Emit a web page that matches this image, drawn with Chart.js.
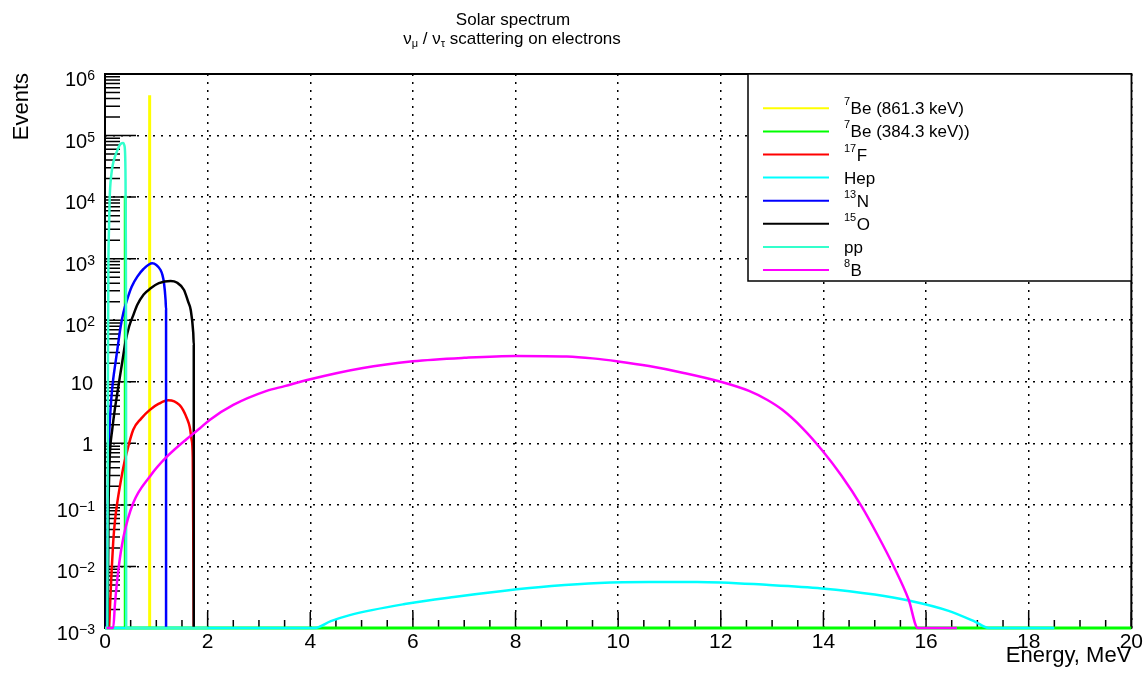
<!DOCTYPE html>
<html>
<head>
<meta charset="utf-8">
<title>Solar spectrum</title>
<script src="https://cdn.jsdelivr.net/npm/chart.js@4.4.1/dist/chart.umd.min.js"></script>
<style>
  html, body { margin: 0; padding: 0; background: #fff; }
  #wrap { width: 1145px; height: 678px; }
</style>
</head>
<body>
<div id="wrap"><canvas id="chart" width="1145" height="678"></canvas></div>
<script>
// Solar neutrino spectrum, nu_mu / nu_tau scattering on electrons
// values (energy in MeV, events)

const xMajorTicks = [0, 2, 4, 6, 8, 10, 12, 14, 16, 18, 20];
const xTickLabels = ['0', '2', '4', '6', '8', '10', '12', '14', '16', '18', '20'];
const yMajorTicks = [1e-3, 1e-2, 1e-1, 1, 10, 1e2, 1e3, 1e4, 1e5, 1e6];
const yTickBase = ['10', '10', '10', '1', '10', '10', '10', '10', '10', '10'];
const yTickExp = ['\u22123', '\u22122', '\u22121', '', '', '2', '3', '4', '5', '6'];

// 7Be 861.3 keV line
const eBe861 = [0.87, 0.87];
const nBe861 = [1e-3, 4.5e5];

// 7Be 384.3 keV line (+ empty bins along the floor)
const eBe384 = [0, 0.395, 0.395, 0.395, 20];
const nBe384 = [1e-3, 1e-3, 1.05e4, 1e-3, 1e-3];

// 17F
const eF17 = [0.08, 0.1, 0.13, 0.16, 0.195, 0.24, 0.29, 0.35, 0.42, 0.55, 0.7, 0.875, 1.05, 1.23, 1.35, 1.45, 1.52, 1.6, 1.65, 1.69, 1.71, 1.73];
const nF17 = [1e-3, 0.0025, 0.0087, 0.025, 0.056, 0.11, 0.2, 0.38, 0.69, 1.66, 2.5, 3.5, 4.4, 5.0, 4.8, 4.2, 3.5, 2.5, 1.86, 1.12, 0.6, 1e-3];

// hep
const eHep = [0, 4.09, 4.4, 4.77, 5.84, 6.8, 7.75, 8.7, 9.63, 10.6, 11.54, 12.94, 13.97, 15.0, 15.66, 16.44, 16.96, 17.22, 18.5];
const nHep = [1e-3, 1e-3, 0.00129, 0.00162, 0.00245, 0.0032, 0.004, 0.0048, 0.0054, 0.0056, 0.0056, 0.005, 0.0044, 0.0035, 0.0028, 0.0019, 0.00126, 1e-3, 1e-3];

// 13N
const eN13 = [0.035, 0.045, 0.055, 0.065, 0.08, 0.1, 0.12, 0.16, 0.21, 0.25, 0.305, 0.36, 0.43, 0.52, 0.63, 0.75, 0.92, 1.0, 1.08, 1.12, 1.15, 1.18, 1.19, 1.19];
const nN13 = [1e-3, 0.01, 0.1, 0.5, 1.3, 2.8, 5, 11, 22, 38, 79, 135, 215, 350, 510, 680, 840, 790, 660, 540, 400, 215, 150, 1e-3];

// 15O
const eO15 = [0.05, 0.06, 0.07, 0.085, 0.1, 0.14, 0.19, 0.24, 0.29, 0.34, 0.4, 0.47, 0.55, 0.63, 0.75, 0.89, 1.05, 1.28, 1.4, 1.54, 1.62, 1.67, 1.72, 1.73, 1.73];
const nO15 = [1e-3, 0.01, 0.1, 0.4, 0.8, 1.66, 3.5, 6.5, 12, 22, 45, 79, 120, 178, 260, 330, 400, 435, 410, 310, 200, 148, 62, 40, 1e-3];

// pp
const ePP = [0, 0.045, 0.05, 0.055, 0.06, 0.065, 0.075, 0.09, 0.1, 0.12, 0.15, 0.195, 0.25, 0.29, 0.33, 0.356, 0.375, 0.39, 0.4, 0.405, 0.41, 0.413, 2.0];
const nPP = [1e-3, 1e-3, 0.05, 2, 50, 600, 2500, 9000, 14000, 22000, 33000, 46000, 60000, 71000, 75000, 76000, 70000, 55000, 20000, 3000, 50, 1e-3, 1e-3];

// 8B
const eB8 = [0.03, 0.16, 0.195, 0.26, 0.36, 0.55, 0.875, 1.2, 1.72, 1.85, 2.04, 2.5, 3.15, 3.5, 4.0, 5.0, 6.0, 7.0, 8.0, 9.0, 9.5, 10.0, 10.6, 11.3, 12.0, 12.55, 12.9, 13.2, 13.6, 13.97, 14.35, 14.75, 15.05, 15.37, 15.66, 15.84, 16.6];
const nB8 = [1e-3, 1e-3, 0.0025, 0.0087, 0.03, 0.107, 0.29, 0.6, 1.44, 1.76, 2.4, 4.2, 7.1, 8.5, 11, 16.6, 21.5, 24.5, 26.3, 25.7, 24, 21.4, 18, 13.8, 10, 7.1, 5.1, 3.5, 1.74, 0.78, 0.3, 0.093, 0.033, 0.01, 0.0029, 1e-3, 1e-3];

const seriesE = [eBe861, eBe384, eF17, eHep, eN13, eO15, ePP, eB8];
const seriesN = [nBe861, nBe384, nF17, nHep, nN13, nO15, nPP, nB8];
const legendSup = ['7', '7', '17', '', '13', '15', '', '8'];
const legendText = ['Be (861.3 keV)', 'Be (384.3 keV))', 'F', 'Hep', 'N', 'O', 'pp', 'B'];
const colors = ['#ffff00', '#00ff00', '#ff0000', '#00ffff', '#0000ff', '#000000', '#33ffcc', '#ff00ff'];
const widths = [3, 3, 2.5, 2.5, 2.5, 2.5, 2.5, 2.5];

const FONT = '"Liberation Sans", Arial, Helvetica, sans-serif';
Chart.defaults.font.family = FONT;
Chart.defaults.color = '#000';

function near(v, list) {
  return list.some(m => Math.abs(v - m) <= Math.abs(m) * 1e-6 + 1e-9);
}

// ROOT-like frame, inward ticks, labels, titles and legend
const rootStyle = {
  id: 'rootStyle',
  beforeDatasetsDraw(chart) {
    const { ctx, chartArea: a, scales: { x, y } } = chart;
    ctx.save();
    ctx.strokeStyle = '#000';
    ctx.lineWidth = 1.5;
    ctx.beginPath();
    x.ticks.forEach(t => {
      const px = x.getPixelForValue(t.value);
      const len = near(t.value, xMajorTicks) ? 16 : 8;
      ctx.moveTo(px, a.bottom);
      ctx.lineTo(px, a.bottom - len);
    });
    y.ticks.forEach(t => {
      const py = y.getPixelForValue(t.value);
      const len = near(t.value, yMajorTicks) ? 31 : 15;
      ctx.moveTo(a.left, py);
      ctx.lineTo(a.left + len, py);
    });
    ctx.stroke();
    ctx.lineWidth = 2;
    ctx.strokeRect(a.left, a.top, a.right - a.left, a.bottom - a.top);
    ctx.restore();
  },
  afterDraw(chart) {
    const { ctx, chartArea: a, scales: { y } } = chart;
    ctx.save();
    ctx.fillStyle = '#000';
    ctx.textBaseline = 'alphabetic';

    // y tick labels with exponents
    yMajorTicks.forEach((v, i) => {
      const py = y.getPixelForValue(v);
      const right = 95;
      if (yTickExp[i]) {
        ctx.font = '14px ' + FONT;
        const ew = ctx.measureText(yTickExp[i]).width;
        ctx.textAlign = 'left';
        ctx.fillText(yTickExp[i], right - ew, py + 6);
        ctx.font = '20px ' + FONT;
        ctx.textAlign = 'right';
        ctx.fillText(yTickBase[i], right - ew, py + 12);
      } else {
        ctx.font = '20px ' + FONT;
        ctx.textAlign = 'right';
        ctx.fillText(yTickBase[i], right - 2, py + 8);
      }
    });

    // axis titles
    ctx.font = '22px ' + FONT;
    ctx.textAlign = 'right';
    ctx.fillText('Energy, MeV', a.right, 662);
    ctx.save();
    ctx.translate(28, a.top - 1);
    ctx.rotate(-Math.PI / 2);
    ctx.textAlign = 'right';
    ctx.fillText('Events', 0, 0);
    ctx.restore();

    // title
    ctx.font = '17px ' + FONT;
    ctx.textAlign = 'center';
    ctx.fillText('Solar spectrum', 513, 25);
    const parts = [['\u03bd', 0], ['\u03bc', 1], [' / \u03bd', 0], ['\u03c4', 1], [' scattering on electrons', 0]];
    let total = 0;
    parts.forEach(p => {
      ctx.font = (p[1] ? '11px ' : '17px ') + FONT;
      total += ctx.measureText(p[0]).width;
    });
    let tx = 512 - total / 2;
    ctx.textAlign = 'left';
    parts.forEach(p => {
      ctx.font = (p[1] ? '11px ' : '17px ') + FONT;
      ctx.fillText(p[0], tx, p[1] ? 47 : 43.5);
      tx += ctx.measureText(p[0]).width;
    });

    // legend box
    const lx = 748, ly = a.top, lw = a.right - 748, lh = 207;
    ctx.fillStyle = '#fff';
    ctx.fillRect(lx, ly, lw, lh);
    ctx.strokeStyle = '#000';
    ctx.lineWidth = 1.5;
    ctx.strokeRect(lx, ly, lw, lh);
    chart.data.datasets.forEach((ds, i) => {
      const ry = 108.3 + i * 23.1;
      ctx.strokeStyle = ds.borderColor;
      ctx.lineWidth = 2;
      ctx.beginPath();
      ctx.moveTo(763, ry);
      ctx.lineTo(829, ry);
      ctx.stroke();
      ctx.fillStyle = '#000';
      let x0 = 844;
      if (legendSup[i]) {
        ctx.font = '11px ' + FONT;
        ctx.fillText(legendSup[i], x0, ry - 3);
        x0 += ctx.measureText(legendSup[i]).width + 0.5;
      }
      ctx.font = '17px ' + FONT;
      ctx.fillText(legendText[i], x0, ry + 6);
    });
    ctx.restore();
  }
};

const datasets = seriesE.map((es, i) => ({
  label: legendSup[i] + legendText[i],
  data: es.map((e, k) => ({ x: e, y: seriesN[i][k] })),
  borderColor: colors[i],
  backgroundColor: colors[i],
  borderWidth: widths[i],
  pointRadius: 0,
  cubicInterpolationMode: 'monotone',
  fill: false,
  clip: 3,
  order: seriesE.length - 1 - i
}));

new Chart(document.getElementById('chart'), {
  type: 'line',
  data: { datasets },
  plugins: [rootStyle],
  options: {
    responsive: false,
    animation: false,
    devicePixelRatio: 1,
    events: [],
    layout: { padding: { top: 74, right: 12, left: 0, bottom: 0 } },
    plugins: {
      legend: { display: false },
      title: { display: false },
      tooltip: { enabled: false }
    },
    scales: {
      x: {
        type: 'linear',
        position: 'bottom',
        min: 0,
        max: 20,
        afterBuildTicks(scale) {
          const ticks = [];
          for (let v = 0; v <= 20.0001; v += 0.5) ticks.push({ value: v });
          scale.ticks = ticks;
        },
        afterFit(scale) { scale.height = 50; },
        ticks: {
          autoSkip: false,
          maxRotation: 0,
          padding: 2,
          font: { size: 21 },
          color: '#000',
          callback(value) {
            const k = xMajorTicks.indexOf(value);
            return k >= 0 ? xTickLabels[k] : '';
          }
        },
        grid: {
          drawTicks: false,
          lineWidth: 1.5,
          color: ctx => (ctx.tick && near(ctx.tick.value, xMajorTicks) ? '#000' : 'rgba(0,0,0,0)')
        },
        border: { display: false, dash: [2, 6] }
      },
      y: {
        type: 'logarithmic',
        min: 1e-3,
        max: 1e6,
        afterBuildTicks(scale) {
          const ticks = [];
          yMajorTicks.forEach((m, i) => {
            ticks.push({ value: m, major: true });
            if (i < yMajorTicks.length - 1) {
              for (let d = 2; d <= 9; d++) ticks.push({ value: d * m, major: false });
            }
          });
          scale.ticks = ticks;
        },
        afterFit(scale) { scale.width = 105; },
        ticks: { display: false },
        grid: {
          drawTicks: false,
          lineWidth: 1.5,
          color: ctx => (ctx.tick && near(ctx.tick.value, yMajorTicks) ? '#000' : 'rgba(0,0,0,0)')
        },
        border: { display: false, dash: [2, 6] }
      }
    }
  }
});
</script>
</body>
</html>
